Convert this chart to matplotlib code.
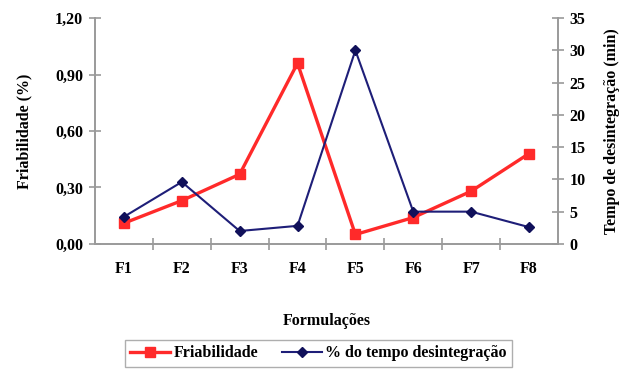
import matplotlib
matplotlib.use("Agg")
import matplotlib.pyplot as plt
import numpy as np
from matplotlib.ticker import FixedLocator

categories = ["F1", "F2", "F3", "F4", "F5", "F6", "F7", "F8"]
friabilidade = [0.11, 0.23, 0.37, 0.96, 0.05, 0.14, 0.28, 0.48]
tempo_desintegracao = [4.2, 9.6, 2.0, 2.8, 30.0, 5.0, 5.0, 2.6]
left_ticks = [0.0, 0.30, 0.60, 0.90, 1.20]
left_tick_labels = ["0,00", "0,30", "0,60", "0,90", "1,20"]
right_ticks = [0, 5, 10, 15, 20, 25, 30, 35]

plt.rcParams["font.family"] = ["Liberation Serif", "DejaVu Serif"]
plt.rcParams["font.weight"] = "bold"
plt.rcParams["axes.labelweight"] = "bold"

axis_grey = "#9a9a9a"
red = "#ff2a2a"
navy = "#1e1e78"

fig = plt.figure(figsize=(6.29, 3.69), dpi=100)
ax = fig.add_axes([0.151, 0.339, 0.736, 0.612])
ax2 = ax.twinx()

x = np.arange(len(categories))
l1, = ax.plot(x, friabilidade, color=red, lw=2.4, marker="s", ms=7,
              markerfacecolor=red, markeredgecolor=red, zorder=3)
l2, = ax2.plot(x, tempo_desintegracao, color=navy, lw=1.5, marker="D", ms=5.5,
               markerfacecolor="#10105a", markeredgecolor="#10105a", zorder=3)

ax.set_xlim(-0.5, len(categories) - 0.5)
ax.set_ylim(0, 1.20)
ax2.set_ylim(0, 35)

ax.set_xticks(x)
ax.set_xticklabels(categories, fontsize=11.5)
ax.xaxis.set_minor_locator(FixedLocator(np.arange(0.5, len(categories) - 0.5, 1)))
ax.tick_params(axis="x", which="major", length=0, pad=12)
ax.tick_params(axis="x", which="minor", direction="inout", length=9,
               color=axis_grey, width=1.2)

ax.set_yticks(left_ticks)
ax.set_yticklabels(left_tick_labels, fontsize=11.5)
ax.tick_params(axis="y", direction="inout", length=9, color=axis_grey,
               width=1.2, pad=4)
ax2.set_yticks(right_ticks)
ax2.set_yticklabels([str(v) for v in right_ticks], fontsize=11.5)
ax2.tick_params(axis="y", direction="inout", length=9, color=axis_grey,
                width=1.2, pad=4)

for a in (ax, ax2):
    a.spines["top"].set_visible(False)
    for s in ("left", "right", "bottom"):
        a.spines[s].set_color(axis_grey)
        a.spines[s].set_linewidth(1.2)

ax.set_xlabel("Formulações", fontsize=11.5, labelpad=26)
ax.set_ylabel("Friabilidade (%)", fontsize=11.5, labelpad=16)
ax2.set_ylabel("Tempo de desintegração (min)", fontsize=11.5, labelpad=13)

leg = fig.legend([l1, l2], ["Friabilidade", "% do tempo desintegração"],
                 loc="upper center", bbox_to_anchor=(0.506, 0.079), ncol=2,
                 fontsize=11.5, frameon=True, fancybox=False, handlelength=2.5,
                 handletextpad=0.2, columnspacing=1.5, borderpad=0.35,
                 borderaxespad=0)
leg.get_frame().set_edgecolor(axis_grey)
leg.get_frame().set_linewidth(1.0)

fig.savefig("out.png", dpi=100)
